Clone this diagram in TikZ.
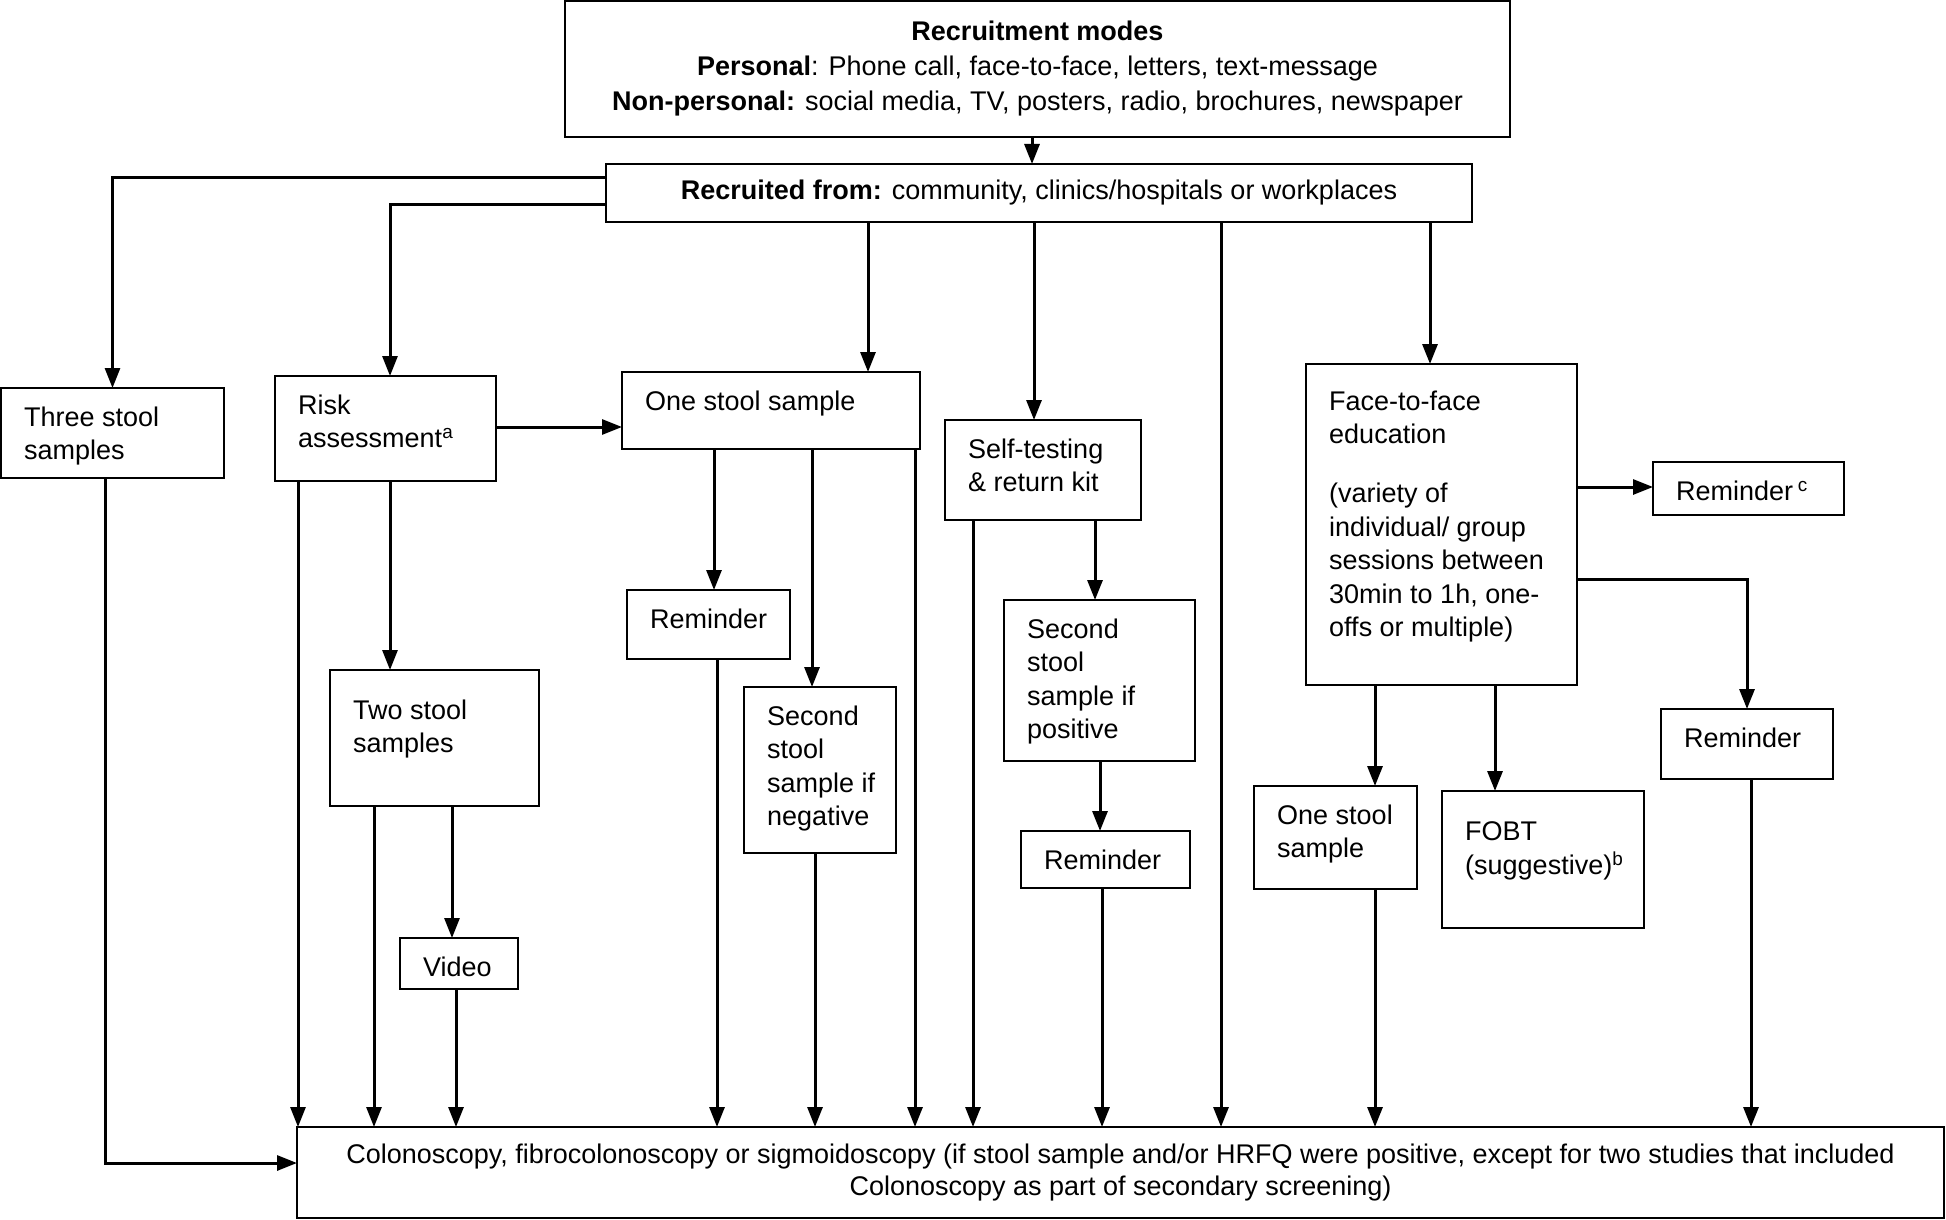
\documentclass[tikz,border=0pt]{standalone}
\usepackage{fontspec}
\setmainfont{Liberation Sans}
\usetikzlibrary{arrows.meta}
\tikzset{
  boxn/.style={draw, line width=1.9pt, inner sep=0pt, outer sep=0pt},
  txt/.style={inner sep=0pt, align=left, font=\fontsize{27}{33.5}\selectfont},
  arr/.style={line width=3pt, -{Triangle[length=20pt,width=15pt]}},
}
% [text top offset]{name}{x1}{y1}{x2}{y2}{text}
\newcommand\mybox[7][18.5]{%
  \node[boxn, minimum width={#5pt-#3pt}, minimum height={#6pt-#4pt}, anchor=north west] (#2) at (#3,#4) {};
  \node[txt, anchor=north west] (#2t) at ({#3+23},{#4+#1}) {#7};
}
\begin{document}
\begin{tikzpicture}[x=1pt,y=-1pt]
\useasboundingbox (0,0) rectangle (1946,1220);

% centred boxes
\node[boxn, minimum width=945pt, minimum height=136pt, anchor=north west, align=center,
      font=\fontsize{27}{35}\selectfont] (top) at (565,1)
  {\textbf{Recruitment modes}\\\textbf{Personal}: Phone call, face-to-face, letters, text-message\\\textbf{Non-personal:} social media, TV, posters, radio, brochures, newspaper};
\node[boxn, minimum width=866pt, minimum height=58pt, anchor=north west, align=center,
      font=\fontsize{27}{33.5}\selectfont] (rec) at (606,164)
  {\textbf{Recruited from:} community, clinics/hospitals or workplaces};
\node[boxn, minimum width=1647pt, minimum height=91pt, anchor=north west, align=center,
      font=\fontsize{27}{32}\selectfont] (bot) at (297,1127)
  {Colonoscopy, fibrocolonoscopy or sigmoidoscopy (if stool sample and/or HRFQ were positive, except for two studies that included\\Colonoscopy as part of secondary screening)};

% boxes with top-left text
\mybox{three}{1}{388}{224}{478}{Three stool\\samples}
\mybox{risk}{275}{376}{496}{481}{Risk\\assessment\textsuperscript{a}}
\mybox{one}{622}{372}{920}{449}{One stool sample}
\mybox{self}{945}{420}{1141}{520}{Self-testing\\\& return kit}
\mybox[26.5]{face}{1306}{364}{1577}{685}{Face-to-face\\education\\[25.5pt](variety of\\individual/ group\\sessions between\\30min to 1h, one-\\offs or multiple)}
\mybox{remc}{1653}{462}{1844}{515}{Reminder\,\textsuperscript{c}}
\mybox[29.5]{two}{330}{670}{539}{806}{Two stool\\samples}
\mybox{video}{400}{938}{518}{989}{Video}
\mybox{remA}{627}{590}{790}{659}{Reminder}
\mybox{neg}{744}{687}{896}{853}{Second\\stool\\sample if\\negative}
\mybox{pos}{1004}{600}{1195}{761}{Second\\stool\\sample if\\positive}
\mybox{remB}{1021}{831}{1190}{888}{Reminder}
\mybox{onetwo}{1254}{786}{1417}{889}{One stool\\sample}
\mybox[30.5]{fobt}{1442}{791}{1644}{928}{FOBT\\(suggestive)\textsuperscript{b}}
\mybox{remD}{1661}{709}{1833}{779}{Reminder}

% x / y guide coordinates
\foreach \xx in {1032,868,1034,1221,1430,298,390,374,452,456,714,717,812,815,915,973,1095,1100,1102,1375,1495,1747,1751,105}
  {\coordinate (x\xx) at (\xx,0);}
\foreach \yy in {177,204,427,487,579,1163}
  {\coordinate (y\yy) at (0,\yy);}

% connectors
\draw[arr] (top.south -| x1032) -- (rec.north -| x1032);
\draw[arr] (rec.west |- y177) -| (three.north);
\draw[arr] (rec.west |- y204) -| (risk.north -| x390);
\draw[arr] (rec.south -| x868) -- (one.north -| x868);
\draw[arr] (rec.south -| x1034) -- (self.north -| x1034);
\draw[arr] (rec.south -| x1221) -- (bot.north -| x1221);
\draw[arr] (rec.south -| x1430) -- (face.north -| x1430);

\draw[arr] (three.south -| x105) |- (bot.west |- y1163);
\draw[arr] (risk.east |- y427) -- (one.west |- y427);
\draw[arr] (risk.south -| x298) -- (bot.north -| x298);
\draw[arr] (risk.south -| x390) -- (two.north -| x390);
\draw[arr] (two.south -| x374) -- (bot.north -| x374);
\draw[arr] (two.south -| x452) -- (video.north -| x452);
\draw[arr] (video.south -| x456) -- (bot.north -| x456);

\draw[arr] (one.south -| x714) -- (remA.north -| x714);
\draw[arr] (remA.south -| x717) -- (bot.north -| x717);
\draw[arr] (one.south -| x812) -- (neg.north -| x812);
\draw[arr] (neg.south -| x815) -- (bot.north -| x815);
\draw[arr] (one.south -| x915) -- (bot.north -| x915);

\draw[arr] (self.south -| x973) -- (bot.north -| x973);
\draw[arr] (self.south -| x1095) -- (pos.north -| x1095);
\draw[arr] (pos.south -| x1100) -- (remB.north -| x1100);
\draw[arr] (remB.south -| x1102) -- (bot.north -| x1102);

\draw[arr] (face.east |- y487) -- (remc.west |- y487);
\draw[arr] (face.east |- y579) -| (remD.north -| x1747);
\draw[arr] (face.south -| x1375) -- (onetwo.north -| x1375);
\draw[arr] (face.south -| x1495) -- (fobt.north -| x1495);
\draw[arr] (onetwo.south -| x1375) -- (bot.north -| x1375);
\draw[arr] (remD.south -| x1751) -- (bot.north -| x1751);
\end{tikzpicture}
\end{document}
